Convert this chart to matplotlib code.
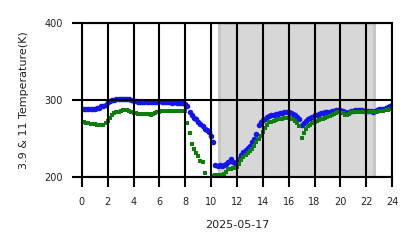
import numpy as np
import matplotlib
matplotlib.use("Agg")
import matplotlib.pyplot as plt

# 10-minute samples, 0..24 h
hours = np.arange(0, 145) / 6.0

bt_39 = [
    289, 288, 289, 288, 289, 289,
    289, 290, 290, 292, 292, 294,
    297, 299, 300, 300, 301, 301,
    301, 302, 302, 301, 301, 300,
    299, 299, 298, 298, 298, 298,
    298, 297, 298, 298, 298, 298,
    299, 298, 298, 297, 297, 297,
    296, 297, 296, 296, 296, 296,
    295, 292, 285, 281, 277, 275,
    272, 269, 266, 263, 261, 258,
    253, 245, 216, 215, 216, 215,
    216, 217, 219, 223, 220, 218,
    219, 224, 229, 232, 235, 238,
    241, 245, 250, 256, 268, 271,
    274, 276, 278, 279, 280, 281,
    282, 282, 283, 283, 284, 284,
    284, 283, 282, 281, 278, 276,
    267, 270, 273, 275, 277, 278,
    280, 281, 282, 283, 283, 284,
    284, 285, 286, 286, 287, 287,
    287, 286, 285, 283, 285, 286,
    286, 287, 287, 287, 287, 286,
    286, 286, 286, 285, 286, 287,
    288, 288, 289, 290, 291, 292,
    293,
]

bt_11 = [
    272, 271, 270, 270, 269, 269,
    269, 268, 268, 268, 267, 270,
    273, 277, 281, 283, 284, 285,
    286, 287, 287, 287, 286, 285,
    283, 283, 282, 282, 282, 282,
    282, 282, 281, 282, 283, 284,
    285, 286, 286, 286, 286, 286,
    286, 286, 286, 286, 286, 286,
    286, 270, 257, 243, 236, 231,
    227, 221, 219, 205, 190, 190,
    190, 202, 203, 203, 203, 203,
    204, 207, 210, 211, 212, 212,
    213, 217, 222, 226, 229, 231,
    234, 237, 241, 245, 250, 253,
    258, 264, 268, 271, 272, 273,
    274, 275, 276, 276, 277, 277,
    277, 276, 275, 273, 270, 266,
    251, 257, 262, 266, 268, 270,
    271, 273, 274, 275, 276, 277,
    278, 279, 280, 282, 283, 284,
    284, 283, 281, 280, 282, 284,
    285, 285, 285, 285, 285, 285,
    285, 285, 285, 285, 285, 285,
    286, 286, 286, 287, 287, 288,
    288,
]

night_start = 10.57
night_end = 22.6

x_ticks = list(range(0, 25, 2))
y_ticks = [200, 300, 400]

fig = plt.figure(figsize=(4.18, 2.48), dpi=100)
ax = fig.add_axes([0.196, 0.286, 0.742, 0.621])

ax.axvspan(night_start, night_end, facecolor='#d7d7d7', edgecolor='#c4c4c4',
           linewidth=2, zorder=0)

ax.plot(hours, bt_39, linestyle='none', marker='o', markersize=4.0,
        color='#1414f0', markeredgewidth=0, zorder=2)
ax.plot(hours, bt_11, linestyle='none', marker='s', markersize=2.7,
        color='#0a800a', markeredgewidth=0, zorder=2.1)

ax.set_xlim(0, 24)
ax.set_ylim(200, 400)
ax.set_xticks(x_ticks)
ax.set_yticks(y_ticks)
ax.grid(True, color='black', linewidth=1.5)
ax.set_axisbelow(False)
for sp in ax.spines.values():
    sp.set_color('black')
    sp.set_linewidth(1.5)
    sp.set_zorder(3)

ax.tick_params(axis='both', length=7, width=1.5, color='black', pad=7,
               labelsize=7, labelcolor='#222222')
ax.set_ylabel('3.9 & 11 Temperature(K)', fontsize=8, color='#222222', labelpad=11)
ax.set_xlabel('2025-05-17', fontsize=8, color='#222222', labelpad=10)

fig.savefig('out.png', dpi=100, facecolor='white')
